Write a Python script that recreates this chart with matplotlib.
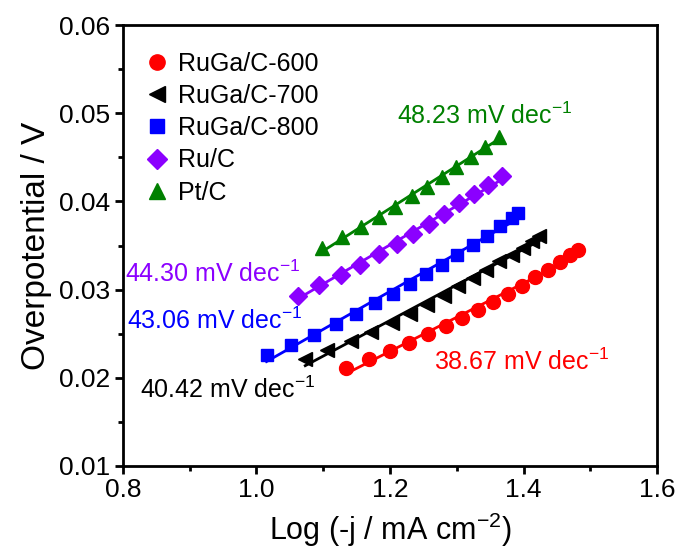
import numpy as np
import matplotlib
matplotlib.use("Agg")
import matplotlib.pyplot as plt
from matplotlib.ticker import MultipleLocator, FormatStrFormatter

plt.rcParams['font.family'] = ['Liberation Sans', 'DejaVu Sans']
plt.rcParams['mathtext.default'] = 'regular'

# Tafel data: log current density vs overpotential (V)
x600 = [1.134, 1.169, 1.200, 1.229, 1.257, 1.283, 1.308, 1.331, 1.354, 1.377,
        1.398, 1.417, 1.436, 1.454, 1.470, 1.481]
y600 = [0.02113, 0.02208, 0.02302, 0.02396, 0.02491, 0.02585, 0.02679, 0.02766,
        0.02860, 0.02955, 0.03045, 0.03140, 0.03226, 0.03309, 0.03396, 0.03453]

x700 = [1.073, 1.106, 1.142, 1.172, 1.203, 1.230, 1.255, 1.280, 1.302, 1.324,
        1.343, 1.363, 1.382, 1.399, 1.412, 1.423]
y700 = [0.02208, 0.02313, 0.02415, 0.02517, 0.02622, 0.02728, 0.02830, 0.02932,
        0.03037, 0.03132, 0.03226, 0.03321, 0.03396, 0.03472, 0.03547, 0.03604]

x800 = [1.015, 1.051, 1.086, 1.119, 1.149, 1.178, 1.204, 1.230, 1.254, 1.278,
        1.300, 1.324, 1.345, 1.364, 1.382, 1.392]
y800 = [0.02264, 0.02377, 0.02490, 0.02615, 0.02728, 0.02849, 0.02954, 0.03068,
        0.03177, 0.03283, 0.03396, 0.03509, 0.03611, 0.03717, 0.03811, 0.03868]

xru = [1.062, 1.094, 1.126, 1.155, 1.183, 1.210, 1.235, 1.259, 1.281, 1.303,
       1.325, 1.346, 1.368]
yru = [0.02932, 0.03049, 0.03170, 0.03283, 0.03404, 0.03517, 0.03634, 0.03747,
       0.03860, 0.03981, 0.04083, 0.04189, 0.04294]

xpt = [1.098, 1.128, 1.156, 1.183, 1.208, 1.233, 1.255, 1.278, 1.299, 1.321,
       1.342, 1.363]
ypt = [0.03472, 0.03592, 0.03709, 0.03822, 0.03936, 0.04057, 0.04170, 0.04283,
       0.04396, 0.04509, 0.04623, 0.04736]

labels = ['RuGa/C-600', 'RuGa/C-700', 'RuGa/C-800', 'Ru/C', 'Pt/C']
slopes = [38.67, 40.42, 43.06, 44.30, 48.23]  # mV dec-1
colors = ['#ff0000', '#000000', '#0000ff', '#8b00ff', '#008000']
markers = ['o', '<', 's', 'D', '^']
msizes = [10, 10, 9, 9, 10]
xs = [x600, x700, x800, xru, xpt]
ys = [y600, y700, y800, yru, ypt]

# slope label positions (data coords)
txt_pos = [(1.265, 0.0218), (0.826, 0.0186), (0.806, 0.0265), (0.803, 0.0318), (1.210, 0.0497)]

fig = plt.figure(figsize=(6.79, 5.6), dpi=100)
ax = fig.add_axes([0.181, 0.168, 0.787, 0.787])

for x, y, lab, k, c, m, ms in zip(xs, ys, labels, slopes, colors, markers, msizes):
    x = np.array(x)
    y = np.array(y)
    ax.plot(x, y, linestyle='none', marker=m, color=c, markersize=ms, label=lab)
    # fitted Tafel line with the stated slope
    b = k / 1000.0
    a = np.mean(y) - b * np.mean(x)
    xx = np.array([x.min(), x.max()])
    ax.plot(xx, a + b * xx, color=c, lw=2)

for (tx, ty), k, c in zip(txt_pos, slopes, colors):
    ax.text(tx, ty, '%.2f mV dec$^{-1}$' % k, color=c, fontsize=18, va='center', ha='left')

ax.set_xlim(0.8, 1.6)
ax.set_ylim(0.01, 0.06)
ax.xaxis.set_major_locator(MultipleLocator(0.2))
ax.xaxis.set_minor_locator(MultipleLocator(0.1))
ax.yaxis.set_major_locator(MultipleLocator(0.01))
ax.yaxis.set_minor_locator(MultipleLocator(0.005))
ax.xaxis.set_major_formatter(FormatStrFormatter('%.1f'))
ax.yaxis.set_major_formatter(FormatStrFormatter('%.2f'))
ax.tick_params(which='major', direction='out', length=6, width=2, labelsize=19, pad=3)
ax.tick_params(which='minor', direction='out', length=3.5, width=2)
for s in ax.spines.values():
    s.set_linewidth(2)

ax.set_xlabel('Log (-j / mA cm$^{-2}$)', fontsize=22, labelpad=6)
ax.set_ylabel('Overpotential / V', fontsize=24, labelpad=5)

ax.legend(loc='upper left', bbox_to_anchor=(0.035, 0.94), frameon=False, fontsize=18,
          handletextpad=0.25, labelspacing=0.33, borderaxespad=0, handlelength=1.2,
          borderpad=0, markerscale=1.1)

plt.savefig('out.png', dpi=100)
